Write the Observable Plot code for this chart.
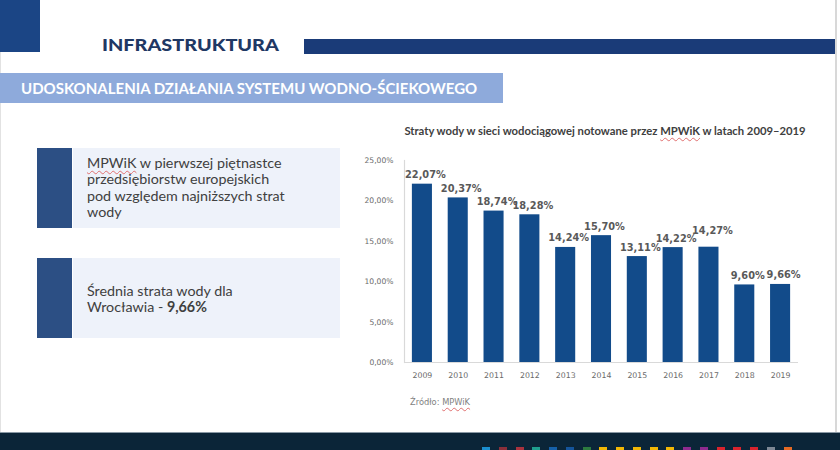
<!DOCTYPE html>
<html><head><meta charset="utf-8">
<script src="https://cdn.jsdelivr.net/npm/d3@7"></script>
<script src="https://cdn.jsdelivr.net/npm/@observablehq/plot@0.6"></script>
<style>
html,body{margin:0;padding:0;}
body{width:840px;height:450px;position:relative;overflow:hidden;background:#fff;font-family:Lato,"Open Sans",sans-serif;}
.abs{position:absolute;}
.spell{text-decoration:underline wavy #e07070;text-decoration-thickness:1px;text-underline-offset:2px;}
</style></head>
<body>
<div class="abs" style="left:0;top:0;width:1px;height:432px;background:#e2e2e2"></div>
<div class="abs" style="left:835px;top:0;width:2px;height:432px;background:#d8d8d8"></div>
<div class="abs" style="left:0;top:0;width:40px;height:52px;background:#1b4585"></div>
<div class="abs" style="left:102px;top:35px;font-weight:900;font-size:16.5px;color:#1f3864;transform:scaleX(1.2);transform-origin:0 0;">INFRASTRUKTURA</div>
<div class="abs" style="left:304px;top:39px;width:531px;height:15px;background:#1a3b78"></div>
<div class="abs" style="left:0;top:73px;width:503px;height:30px;background:#8eaadb"></div>
<div class="abs" style="left:21px;top:79px;font-weight:700;font-size:15px;color:#fff;">UDOSKONALENIA DZIAŁANIA SYSTEMU WODNO-ŚCIEKOWEGO</div>

<div class="abs" style="left:37px;top:148px;width:35px;height:80px;background:#2c4f84"></div>
<div class="abs" style="left:73px;top:148px;width:267px;height:80px;background:#eef2fa"></div>
<div class="abs" style="left:87px;top:155px;font-size:14.3px;line-height:16.3px;color:#404040;"><span class="spell">MPWiK</span> w pierwszej piętnastce<br>przedsiębiorstw europejskich<br>pod względem najniższych strat<br>wody</div>

<div class="abs" style="left:37px;top:258px;width:35px;height:80px;background:#2c4f84"></div>
<div class="abs" style="left:73px;top:258px;width:267px;height:80px;background:#eef2fa"></div>
<div class="abs" style="left:87px;top:283px;font-size:14.3px;line-height:15.8px;color:#404040;">Średnia strata wody dla<br>Wrocławia - <b>9,66%</b></div>

<div class="abs" style="left:403px;top:124px;width:404px;text-align:center;font-weight:700;font-size:11.25px;color:#404040;white-space:nowrap">Straty wody w sieci wodociągowej notowane przez <span class="spell">MPWiK</span> w latach 2009–2019</div>

<div id="chart" class="abs" style="left:340px;top:140px;"></div>

<div class="abs" style="left:410px;top:397px;font-family:'DejaVu Sans';font-size:8.3px;color:#7f7f7f;">Źródło: <span class="spell">MPWiK</span></div>

<div class="abs" style="left:0;top:432px;width:840px;height:1px;background:#8a99a5"></div>
<div class="abs" style="left:0;top:433px;width:840px;height:17px;background:#0b2538"></div>
<div id="sq"></div>

<script>
const years = ["2009","2010","2011","2012","2013","2014","2015","2016","2017","2018","2019"];
const losses = [22.07, 20.37, 18.74, 18.28, 14.24, 15.70, 13.11, 14.22, 14.27, 9.60, 9.66];
const yTicks = [0, 5, 10, 15, 20, 25];

const data = years.map((y, i) => ({year: y, value: losses[i]}));
const pct = v => v.toFixed(2).replace(".", ",") + "%";

const chart = Plot.plot({
  width: 470,
  height: 250,
  marginLeft: 64,
  marginRight: 12,
  marginTop: 20,
  marginBottom: 28,
  style: {background: "transparent", color: "#595959"},
  x: {type: "band", domain: years, paddingInner: 0.44, paddingOuter: 0.22, round: false, label: null},
  y: {domain: [0, 25], label: null},
  marks: [
    Plot.barY(data, {x: "year", y: "value", fill: "#124b8a"}),
    Plot.ruleY([0], {stroke: "#d9d9d9", strokeWidth: 1.2}),
    Plot.frame({anchor: "left", stroke: "#d9d9d9", strokeWidth: 1.2}),
    Plot.axisY({ticks: yTicks, tickSize: 0, tickPadding: 11, tickFormat: pct,
      fontFamily: "DejaVu Sans", fontSize: 7.6, fill: "#6a6a6a", label: null}),
    Plot.axisX({tickSize: 0, tickPadding: 10, fontFamily: "DejaVu Sans", fontSize: 7.8, fill: "#6a6a6a", label: null}),
    Plot.text(data.filter(d => d.year !== "2017"), {x: "year", y: "value", text: d => pct(d.value),
      lineAnchor: "bottom", dy: -6, dx: 3, fontFamily: "DejaVu Sans", fontWeight: "bold", fontSize: 9.8, fill: "#595959"}),
    Plot.text(data.filter(d => d.year === "2017"), {x: "year", y: "value", text: d => pct(d.value),
      lineAnchor: "bottom", dy: -13, dx: 3.5, fontFamily: "DejaVu Sans", fontWeight: "bold", fontSize: 9.8, fill: "#595959"})
  ]
});
document.getElementById("chart").appendChild(chart);

const sqColors = ["#1b8fcf","#8b2f3a","#a8323e","#1f9e8e","#1660a8","#15549a","#2c7a3f",
  "#f2b705","#f2b705","#f2b705","#f2b705","#f2b705","#8e2a8e","#8e2a8e","#d9232d","#d9232d","#d9232d","#7d8895","#e56a24"];
const sq = document.getElementById("sq");
sqColors.forEach((c, i) => {
  const d = document.createElement("div");
  d.className = "abs";
  d.style.cssText = `left:${482 + i*16.75}px;top:447px;width:8px;height:3px;background:${c}`;
  sq.appendChild(d);
});
</script>
</body></html>
